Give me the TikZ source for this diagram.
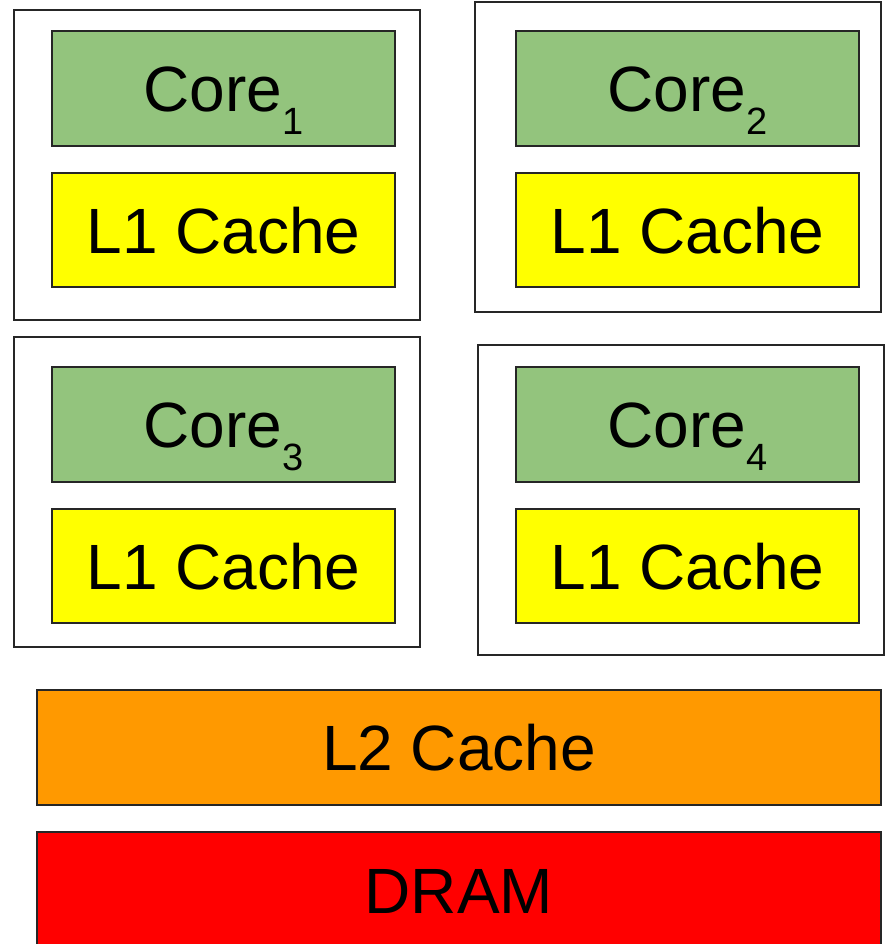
\documentclass[tikz,border=0pt]{standalone}
\usepackage{fontspec}
\setmainfont{Liberation Sans}
\definecolor{coregreen}{HTML}{93C47D}
\definecolor{l1yellow}{HTML}{FFFF00}
\definecolor{l2orange}{HTML}{FF9900}
\definecolor{dramred}{HTML}{FF0000}
\newcommand{\lbl}{\fontsize{64}{64}\selectfont}
\newcommand{\corelbl}[1]{Core\raisebox{-23pt}{\fontsize{38}{38}\selectfont #1}}
\begin{document}
\begin{tikzpicture}[x=1pt,y=-1pt,
  blk/.style={draw=black!85, line width=1.3pt, inner sep=0pt, outer sep=0pt,
    anchor=north west, font=\lbl, text height=46pt, text depth=0pt},
  tile/.style={blk, fill=white, minimum width=406pt, minimum height=310pt},
  corebox/.style={blk, fill=coregreen, minimum width=343pt, minimum height=115pt},
  l1box/.style={blk, fill=l1yellow, minimum width=343pt, minimum height=114pt},
  wide/.style={blk, minimum width=844pt, minimum height=115pt}]
\useasboundingbox (0,0) rectangle (886,944);
% per-core tiles
\node[tile] (t1) at (14,10) {};
\node[tile] (t2) at (475,2) {};
\node[tile] (t3) at (14,337) {};
\node[tile] (t4) at (478,345) {};
% cores and their L1 caches
\node[corebox] (c1) at (52,31) {\corelbl{1}};
\node[l1box] (a1) at (52,173) {L1 Cache};
\node[corebox] (c2) at (516,31) {\corelbl{2}};
\node[l1box] (a2) at (516,173) {L1 Cache};
\node[corebox] (c3) at (52,367) {\corelbl{3}};
\node[l1box] (a3) at (52,509) {L1 Cache};
\node[corebox] (c4) at (516,367) {\corelbl{4}};
\node[l1box] (a4) at (516,509) {L1 Cache};
% shared levels
\node[wide, fill=l2orange] (l2) at (37,690) {L2 Cache};
\node[wide, fill=dramred, minimum height=116pt] (dram) at (37,832) {DRAM};
\end{tikzpicture}
\end{document}
